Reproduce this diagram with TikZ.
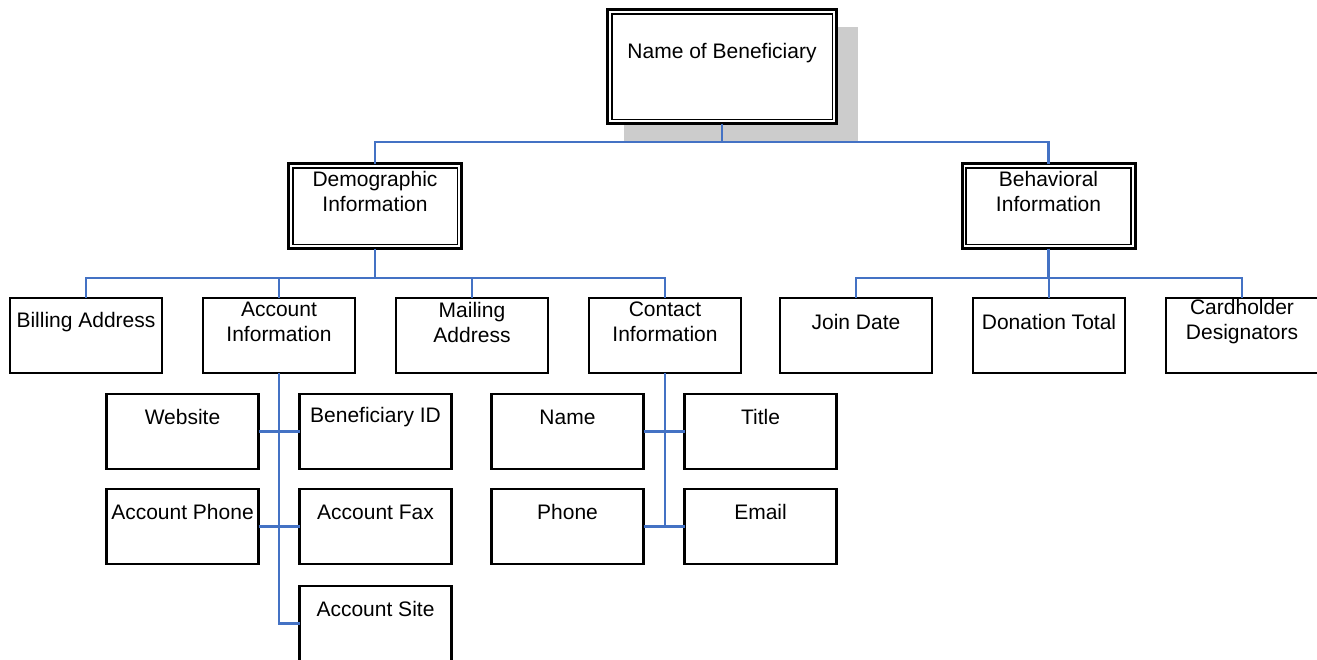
\documentclass[tikz,border=0pt]{standalone}
\usepackage{fontspec}
\setmainfont{Liberation Sans}
\definecolor{linkblue}{HTML}{4472C4}
\definecolor{shadowgray}{HTML}{CCCCCC}
\begin{document}
\begin{tikzpicture}[x=1pt,y=-1pt,
  every node/.style={outer sep=0pt},
  box/.style={draw=black, line width=2.5pt, fill=white, minimum width=152pt, minimum height=75pt, inner sep=0pt},
  dblbox/.style={draw=black, line width=3pt, fill=white, inner sep=0pt,
    path picture={\draw[black, line width=1.6pt]
      ([shift={(4.2pt,-4.2pt)}]path picture bounding box.north west) rectangle
      ([shift={(-4.2pt,4.2pt)}]path picture bounding box.south east);}},
  lbl/.style={font=\fontsize{21}{25}\selectfont, align=center, inner sep=0pt},
  link/.style={draw=linkblue, line width=2.5pt}]
\useasboundingbox (0,0) rectangle (1317,659);
\clip (0,0) rectangle (1317,659);

% drop shadow behind the root box
\fill[shadowgray] (624,27) rectangle (858,142);

% bus rows
\coordinate (busA) at (0,142);
\coordinate (busB) at (0,278);

% boxes
\node[dblbox, minimum width=229pt, minimum height=114pt] (root) at (722,66.5) {};
\node[dblbox, minimum width=173pt, minimum height=85pt] (demo) at (375,206) {};
\node[dblbox, minimum width=173pt, minimum height=85pt] (behav) at (1048.5,206) {};

\node[box] (billing) at (86,335.5) {};
\node[box] (acct) at (279,335.5) {};
\node[box] (mail) at (472,335.5) {};
\node[box] (contact) at (665,335.5) {};
\node[box] (join) at (856,335.5) {};
\node[box] (donation) at (1049,335.5) {};
\node[box] (card) at (1242,335.5) {};

\node[box] (web) at (182.5,431.5) {};
\node[box] (benid) at (375.5,431.5) {};
\node[box] (aphone) at (182.5,526.5) {};
\node[box] (afax) at (375.5,526.5) {};
\node[box] (asite) at (375.5,623.5) {};

\node[box] (cname) at (567.5,431.5) {};
\node[box] (ctitle) at (760.5,431.5) {};
\node[box] (cphone) at (567.5,526.5) {};
\node[box] (cemail) at (760.5,526.5) {};

% connectors
\path[link] (root.south) -- (root.south |- busA);
\path[link] (demo.north) -- (demo.north |- busA) -| (behav.north);

\path[link] (demo.south) -- (demo.south |- busB);
\path[link] (billing.north) -- (billing.north |- busB) -| (contact.north);
\path[link] (acct.north) -- (acct.north |- busB);
\path[link] (mail.north) -- (mail.north |- busB);

\path[link] (behav.south) -- (behav.south |- busB);
\path[link] (join.north) -- (join.north |- busB) -| (card.north);
\path[link] (donation.north) -- (donation.north |- busB);

\path[link] (acct.south) -- (acct.south |- asite.west) -- (asite.west);
\path[link] (web.east) -- (benid.west);
\path[link] (aphone.east) -- (afax.west);

\path[link] (contact.south) -- (contact.south |- cphone.east);
\path[link] (cname.east) -- (ctitle.west);
\path[link] (cphone.east) -- (cemail.west);

% labels
\node[lbl] (rootT) at ([yshift=-44pt]root.north) {Name of Beneficiary};
\node[lbl] (demoT) at ([yshift=-28pt]demo.north) {Demographic\\Information};
\node[lbl] (behavT) at ([yshift=-28pt]behav.north) {Behavioral\\Information};

\node[lbl] (billingT) at ([yshift=-24pt]billing.north) {Billing Address};
\node[lbl] (acctT) at ([yshift=-24pt]acct.north) {Account\\Information};
\node[lbl] (mailT) at ([yshift=-24pt]mail.north) {Mailing\\Address};
\node[lbl] (contactT) at ([yshift=-24pt]contact.north) {Contact\\Information};
\node[lbl] (joinT) at ([yshift=-24pt]join.north) {Join Date};
\node[lbl] (donationT) at ([yshift=-24pt]donation.north) {Donation Total};
\node[lbl] (cardT) at ([yshift=-24pt]card.north) {Cardholder\\Designators};

\node[lbl] (webT) at ([yshift=-23pt]web.north) {Website};
\node[lbl] (benidT) at ([yshift=-23pt]benid.north) {Beneficiary ID};
\node[lbl] (aphoneT) at ([yshift=-23pt]aphone.north) {Account Phone};
\node[lbl] (afaxT) at ([yshift=-23pt]afax.north) {Account Fax};
\node[lbl] (asiteT) at ([yshift=-23pt]asite.north) {Account Site};

\node[lbl] (cnameT) at ([yshift=-23pt]cname.north) {Name};
\node[lbl] (ctitleT) at ([yshift=-23pt]ctitle.north) {Title};
\node[lbl] (cphoneT) at ([yshift=-23pt]cphone.north) {Phone};
\node[lbl] (cemailT) at ([yshift=-23pt]cemail.north) {Email};
\end{tikzpicture}
\end{document}
